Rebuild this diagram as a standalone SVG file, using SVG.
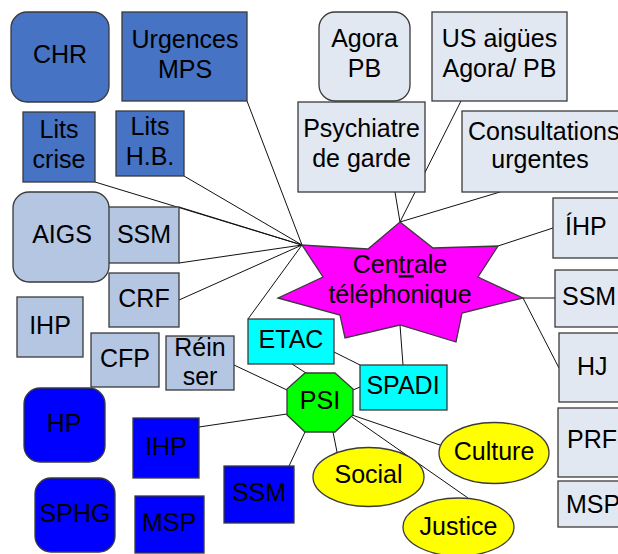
<svg xmlns="http://www.w3.org/2000/svg" width="618" height="554" viewBox="0 0 618 554">
<style>
text{font-family:"Liberation Sans",Arial,sans-serif;font-size:25px;fill:#000;text-anchor:middle}
.s{text-anchor:start}
.b{stroke:#3a3a3a;stroke-width:1.3}
.dk{fill:#4673C4}
.lb{fill:#B4C6E2}
.vl{fill:#E2E8F2}
.bl{fill:#0000FF}
.cy{fill:#00FFFF}
.ye{fill:#FFFF00}
.c{stroke:#111;stroke-width:1;fill:none}
</style>
<rect width="618" height="554" fill="#fff"/>
<g id="connectors">
<line class="c" x1="247" y1="101" x2="302" y2="245"/>
<line class="c" x1="95" y1="182" x2="302" y2="245"/>
<line class="c" x1="184" y1="176" x2="302" y2="245"/>
<line class="c" x1="179" y1="207" x2="302" y2="245"/>
<line class="c" x1="179" y1="263" x2="302" y2="245"/>
<line class="c" x1="179" y1="300" x2="302" y2="245"/>
<line class="c" x1="248" y1="319" x2="302" y2="245"/>
<line class="c" x1="395" y1="192" x2="400" y2="222"/>
<line class="c" x1="461" y1="101" x2="400" y2="222"/>
<line class="c" x1="500" y1="192" x2="400" y2="222"/>
<line class="c" x1="553" y1="228" x2="498" y2="246"/>
<line class="c" x1="555" y1="298" x2="523" y2="298"/>
<line class="c" x1="559" y1="368" x2="523" y2="298"/>
<line class="c" x1="400" y1="325" x2="403" y2="365"/>
<line class="c" x1="334" y1="352" x2="360" y2="365"/>
<line class="c" x1="292" y1="364" x2="306" y2="373"/>
<line class="c" x1="234" y1="365" x2="287" y2="390"/>
<line class="c" x1="353" y1="390" x2="360" y2="387"/>
<line class="c" x1="199" y1="427" x2="287" y2="414"/>
<line class="c" x1="289" y1="466" x2="305" y2="432"/>
<line class="c" x1="333" y1="432" x2="337" y2="452"/>
<line class="c" x1="352" y1="415" x2="440" y2="445"/>
<line class="c" x1="352" y1="417" x2="468" y2="498"/>
</g>
<g id="chr"><rect class="b dk" x="11" y="12" width="98" height="90" rx="16"/><text x="60" y="63">CHR</text></g>
<g id="urgences"><rect class="b dk" x="122" y="12" width="125" height="89"/><text x="185" y="48">Urgences</text><text x="185" y="78">MPS</text></g>
<g id="lits-crise"><rect class="b dk" x="23" y="112" width="72" height="70"/><text x="59" y="138">Lits</text><text x="59" y="168">crise</text></g>
<g id="lits-hb"><rect class="b dk" x="116" y="111" width="68" height="65"/><text x="150" y="135">Lits</text><text x="150" y="165">H.B.</text></g>
<g id="agora"><rect class="b vl" x="319" y="12" width="91" height="89" rx="16"/><text x="364.5" y="47">Agora</text><text x="364.5" y="77">PB</text></g>
<g id="us-aigues"><rect class="b vl" x="432" y="12" width="135" height="89"/><text x="499.5" y="47">US aigües</text><text x="499.5" y="77">Agora/ PB</text></g>
<g id="psychiatre"><rect class="b vl" x="298" y="102" width="127" height="90"/><text x="361.5" y="137">Psychiatre</text><text x="361.5" y="167">de garde</text></g>
<g id="consultations"><rect class="b vl" x="462" y="111" width="160" height="81"/><text class="s" x="468" y="140">Consultations</text><text x="540" y="168">urgentes</text></g>
<g id="ssm-left"><rect class="b lb" x="105" y="207" width="74" height="56"/><text x="144" y="243">SSM</text></g>
<g id="aigs"><rect class="b lb" x="13" y="192" width="96" height="90" rx="16"/><text x="62" y="243">AIGS</text></g>
<g id="crf"><rect class="b lb" x="109" y="273" width="70" height="54"/><text x="144" y="307">CRF</text></g>
<g id="ihp-left"><rect class="b lb" x="17" y="297" width="66" height="60"/><text x="50" y="334">IHP</text></g>
<g id="cfp"><rect class="b lb" x="91" y="333" width="68" height="54"/><text x="125" y="367">CFP</text></g>
<g id="reinser"><rect class="b lb" x="166" y="336" width="68" height="54"/><text x="200" y="356">Réin</text><text x="200" y="385">ser</text></g>
<g id="centrale"><polygon class="b" fill="#FF00FF" points="400,222 433,248 498,246 478,277 523,298 462,313 456,342 400,325 345,338 340,315 278,298 323,277 302,245 368,249"/><text x="400" y="273">Cen<tspan text-decoration="underline">tr</tspan>ale</text><text x="400" y="303">téléphonique</text></g>
<g id="etac"><rect class="b cy" x="248" y="319" width="86" height="45"/><text x="291" y="348">ETAC</text></g>
<g id="spadi"><rect class="b cy" x="360" y="365" width="87" height="45"/><text x="403" y="394">SPADI</text></g>
<g id="psi"><polygon class="b" fill="#00FF00" points="305,373 335,373 353,389 353,415 335,432 305,432 287,415 287,389"/><text x="320" y="409">PSI</text></g>
<g id="ihp-right"><rect class="b vl" x="553" y="198" width="70" height="60"/><text class="s" x="565" y="235">ÍHP</text></g>
<g id="ssm-right"><rect class="b vl" x="555" y="270" width="70" height="57"/><text class="s" x="562" y="305">SSM</text></g>
<g id="hj"><rect class="b vl" x="559" y="333" width="66" height="69"/><text class="s" x="577" y="375">HJ</text></g>
<g id="prf"><rect class="b vl" x="558" y="408" width="67" height="69"/><text class="s" x="567" y="448">PRF</text></g>
<g id="msp-right"><rect class="b vl" x="558" y="481" width="67" height="46"/><text class="s" x="566" y="513">MSP</text></g>
<g id="hp"><rect class="b bl" x="24" y="388" width="81" height="74" rx="16"/><text x="64" y="432">HP</text></g>
<g id="ihp-blue"><rect class="b bl" x="133" y="418" width="66" height="60"/><text x="166" y="455">IHP</text></g>
<g id="sphg"><rect class="b bl" x="35" y="478" width="80" height="74" rx="16"/><text x="75" y="522">SPHG</text></g>
<g id="msp-blue"><rect class="b bl" x="135" y="496" width="69" height="57"/><text x="169" y="531">MSP</text></g>
<g id="ssm-blue"><rect class="b bl" x="224" y="466" width="70" height="57"/><text x="259" y="501">SSM</text></g>
<g id="social"><ellipse class="b ye" cx="368.5" cy="477" rx="55.5" ry="29.5"/><text x="368.5" y="483">Social</text></g>
<g id="culture"><ellipse class="b ye" cx="494" cy="453" rx="55" ry="30.5"/><text x="494" y="460">Culture</text></g>
<g id="justice"><ellipse class="b ye" cx="458.5" cy="527" rx="55.5" ry="29"/><text x="458.5" y="535">Justice</text></g>
</svg>
